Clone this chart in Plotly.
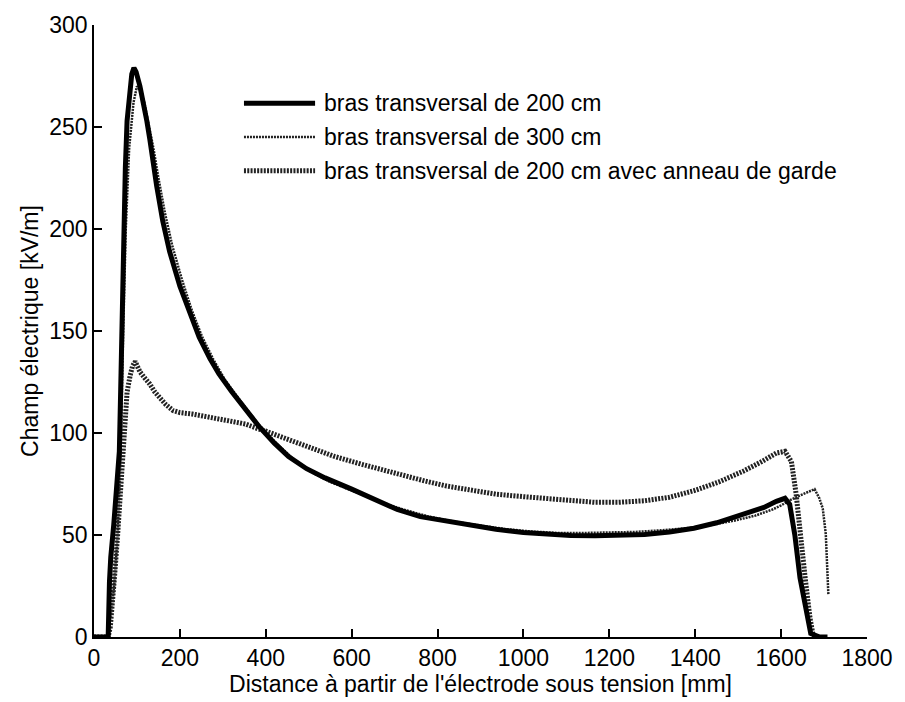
import plotly.graph_objects as go

# ---- data ----
x_200 = [0, 33, 36, 37, 39, 46, 53, 59, 62, 65, 68, 70, 73, 77, 83, 88, 93, 98, 107, 115, 123, 130, 138, 146,
         160, 176, 200, 222, 245, 270, 291, 320, 353, 383, 420, 453, 495, 538, 600, 650, 706, 760, 821, 880,
         936, 1000, 1052, 1110, 1167, 1220, 1282, 1340, 1397, 1450, 1513, 1560, 1589, 1609, 1620, 1632, 1644,
         1656, 1669, 1690, 1708]
y_200 = [0, 0, 27, 32, 39, 55, 75, 91, 120, 160, 189, 207, 230, 253, 270, 276, 279, 277, 270, 262, 253, 244, 232, 221,
         204, 189, 172, 159, 147, 136.5, 129, 120.5, 111.5, 103.5, 95, 88.5, 82.5, 78, 72.5, 67.5, 62.5, 59, 56.7, 54.5,
         52.8, 51.2, 50.3, 49.8, 49.6, 49.7, 50.3, 51.5, 53.3, 56, 60, 63.5, 66.5, 68, 65, 50, 29,
         15, 1.7, 0, 0]

x_300 = [0, 30, 40, 47, 55, 62, 68, 74, 82, 92, 100, 108, 117, 127, 138, 150, 165, 182, 205, 228, 252, 278, 305,
         340, 380, 420, 460, 505, 550, 610, 670, 720, 780, 840, 900, 960, 1020, 1080, 1140, 1200, 1260, 1320,
         1380, 1440, 1490, 1540, 1580, 1600, 1620, 1640, 1660, 1678, 1689, 1697, 1704, 1707, 1710]
y_300 = [0, 0, 12, 25, 50, 90, 150, 200, 240, 262, 270, 268, 262, 252, 240, 225, 208, 192, 175, 160, 147, 136, 126,
         116, 105, 96, 88, 81, 76, 71, 66, 62.5, 59, 56.5, 54.5, 52.8, 51.7, 51, 51, 51.2, 51.5, 52.3,
         53.3, 55, 57, 59.5, 62.5, 64.5, 67, 69, 71, 72.5, 68, 63, 50.5, 35, 21]

x_garde = [0, 33, 38, 42, 48, 55, 63, 71, 74, 77, 84, 90, 96, 101, 107, 118, 130, 142, 153, 167, 184, 200, 229,
           250, 276, 310, 353, 383, 399, 450, 506, 560, 621, 680, 720, 770, 821, 880, 936, 1000, 1052, 1110,
           1167, 1220, 1282, 1340, 1397, 1455, 1513, 1555, 1589, 1609, 1624, 1635, 1644, 1656, 1667, 1674, 1680]
y_garde = [0, 0, 5, 13, 30, 50, 75, 96, 110, 120, 128, 133, 135, 133, 130, 127, 124, 120, 117, 114, 111, 110, 109.3,
           108.5, 107.4, 106, 104.4, 102, 101, 97, 92.7, 88.5, 84.8, 81.5, 79, 76.5, 74, 71.8, 70, 68.8, 67.8, 66.8,
           66, 66, 66.8, 68.5, 71.7, 76, 81.4, 86, 90.2, 91, 86, 70, 50.5, 29, 9.7, 1.5, 0]

names = ["bras transversal de 200 cm",
         "bras transversal de 300 cm",
         "bras transversal de 200 cm avec anneau de garde"]

x_ticks = [0, 200, 400, 600, 800, 1000, 1200, 1400, 1600, 1800]
y_ticks = [0, 50, 100, 150, 200, 250, 300]

# ---- styles ----
styles = [
    dict(color="black", width=5, dash="solid"),
    dict(color="#222222", width=2.5, dash="2px,1px"),
    dict(color="#222222", width=5, dash="2px,1.3px"),
]

FONT = "Liberation Sans, Arial, sans-serif"
FS = 23

fig = go.Figure()
series = [(x_200, y_200), (x_300, y_300), (x_garde, y_garde)]
order = [2, 1, 0]
for i in order:
    xs, ys = series[i]
    fig.add_trace(go.Scatter(x=xs, y=ys, mode="lines", name=names[i],
                             line=styles[i], showlegend=False))

# custom legend (sample lines + text)
leg_y = [0.872, 0.817, 0.762]
for i in range(3):
    fig.add_shape(type="line", xref="paper", yref="paper",
                  x0=0.194, x1=0.286, y0=leg_y[i], y1=leg_y[i],
                  line=styles[i])
    fig.add_annotation(xref="paper", yref="paper", x=0.295, y=leg_y[i],
                       text=names[i], showarrow=False, xanchor="left", yanchor="middle",
                       font=dict(family=FONT, size=FS, color="black"))

axis_common = dict(showline=True, linecolor="black", linewidth=1.5, mirror=False,
                   ticks="inside", ticklen=8, tickwidth=1.5, tickcolor="black",
                   showgrid=False, zeroline=False,
                   tickfont=dict(family=FONT, size=FS, color="black"))

fig.update_layout(
    width=905, height=702,
    margin=dict(l=93.5, r=30, t=22.7, b=65.3),
    paper_bgcolor="white", plot_bgcolor="white",
    xaxis=dict(range=[0, 1800], tickvals=x_ticks,
               title=dict(text="Distance à partir de l'électrode sous tension [mm]",
                          font=dict(family=FONT, size=FS, color="black"), standoff=2),
               **axis_common),
    yaxis=dict(range=[0, 300], tickvals=y_ticks,
               title=dict(text="Champ électrique [kV/m]",
                          font=dict(family=FONT, size=FS, color="black"), standoff=4),
               **axis_common),
)

fig.write_html("out.html")
